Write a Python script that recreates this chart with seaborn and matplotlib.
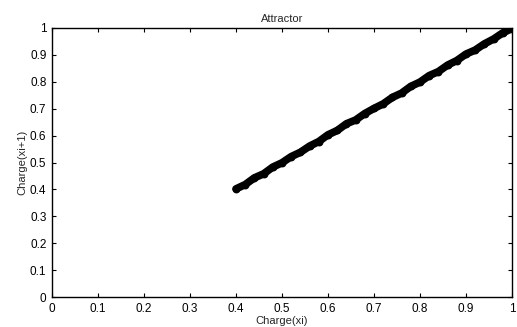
import matplotlib
matplotlib.use("Agg")
import matplotlib.pyplot as plt
import seaborn as sns
import pandas as pd

# Charge(xi) vs Charge(xi+1)
charge_xi = [0.400, 0.420, 0.440, 0.460, 0.480, 0.500, 0.520, 0.540, 0.560, 0.580,
             0.600, 0.620, 0.640, 0.660, 0.680, 0.700, 0.720, 0.740, 0.760, 0.780,
             0.800, 0.820, 0.840, 0.860, 0.880, 0.900, 0.920, 0.940, 0.960, 0.980, 1.000]
charge_xi1 = [0.402, 0.418, 0.443, 0.458, 0.483, 0.499, 0.522, 0.538, 0.561, 0.578,
              0.603, 0.619, 0.644, 0.658, 0.682, 0.701, 0.718, 0.742, 0.758, 0.783,
              0.799, 0.823, 0.838, 0.862, 0.879, 0.903, 0.918, 0.941, 0.959, 0.982, 0.998]
ticks = [0, 0.1, 0.2, 0.3, 0.4, 0.5, 0.6, 0.7, 0.8, 0.9, 1]
tick_labels = ["0", "0.1", "0.2", "0.3", "0.4", "0.5", "0.6", "0.7", "0.8", "0.9", "1"]

df = pd.DataFrame({"xi": charge_xi, "xi1": charge_xi1})

sns.set_style("white")
plt.rcParams["font.family"] = ["Liberation Sans", "DejaVu Sans"]

fig = plt.figure(figsize=(5.17, 3.27), dpi=100)
ax = fig.add_axes([0.1006, 0.0917, 0.8897, 0.8227])

sns.lineplot(data=df, x="xi", y="xi1", color="black", linewidth=5.5, ax=ax,
             solid_capstyle="round")
sns.scatterplot(data=df, x="xi", y="xi1", color="black", s=32, linewidth=0, ax=ax)

ax.set_xlim(0, 1)
ax.set_ylim(0, 1)
ax.set_xticks(ticks)
ax.set_xticklabels(tick_labels)
ax.set_yticks(ticks)
ax.set_yticklabels(tick_labels)
ax.tick_params(direction="in", length=3, width=0.8, labelsize=8.5, pad=4,
               top=True, right=True, bottom=True, left=True, colors="black")
for s in ax.spines.values():
    s.set_color("black")
    s.set_linewidth(1.0)

ax.set_title("Attractor", fontsize=8, pad=4)
ax.set_xlabel("Charge(xi)", fontsize=8, labelpad=1)
ax.set_ylabel("Charge(xi+1)", fontsize=8, labelpad=2,
              family=["Liberation Sans Narrow", "Liberation Sans"])

fig.savefig("out.png", dpi=100)
